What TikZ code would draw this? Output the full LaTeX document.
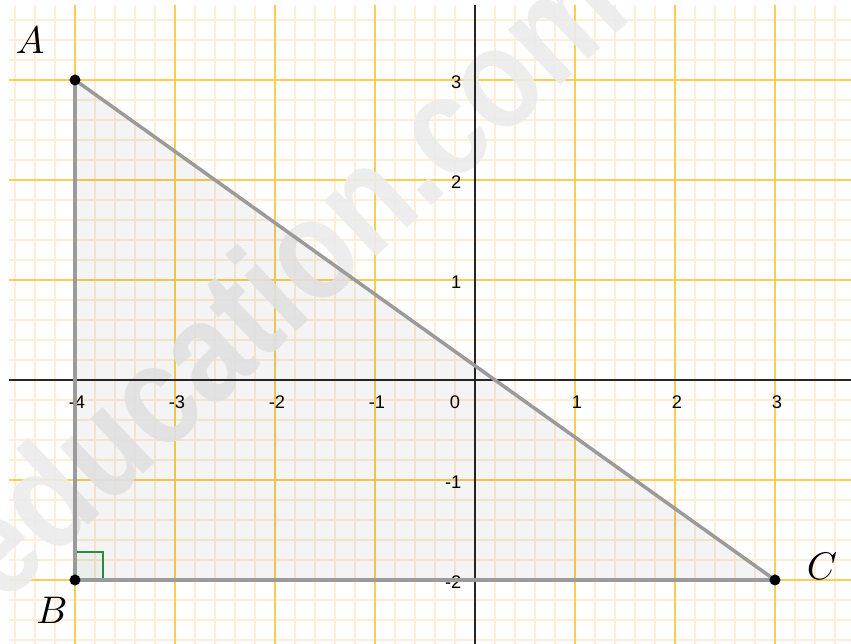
\documentclass[tikz,border=0pt]{standalone}
\usepackage{fontspec}
\newfontfamily\axisfont{Liberation Sans}
\definecolor{grilleMaj}{RGB}{250,205,85}
\definecolor{grilleMin}{RGB}{254,238,215}
\definecolor{vertAngle}{RGB}{40,140,60}
\definecolor{griseCote}{RGB}{155,155,155}

\begin{document}
\begin{tikzpicture}[
    grad/.style={font=\axisfont\fontsize{5.2}{6}\selectfont, inner sep=0pt},
    sommet/.style={font=\fontsize{10.5}{12}\selectfont, inner sep=0pt},
    point/.style={circle, fill=black, inner sep=0pt, minimum size=1.1mm},
]
    % Fenetre : x de -4.75 a 3.76, y de -2.64 a 3.80 (1 unite = 1 cm)
    \def\xmin{-4.66}
    \def\xmax{3.76}
    \def\ymin{-2.64}
    \def\ymax{3.75}
    \useasboundingbox (-4.75,-2.64) rectangle (3.76,3.80);

    % Grille fine puis grille principale
    \draw[grilleMin, line width=0.3pt, step=0.2] (\xmin,\ymin) grid (\xmax,\ymax);
    \draw[grilleMaj, line width=0.6pt, step=1] (\xmin,\ymin) grid (\xmax,\ymax);

    % Filigrane
    \node[rotate=43, text=black!8, opacity=0.9,
          font=\axisfont\bfseries\fontsize{41}{42}\selectfont] (filigrane) at (-1.92,1.06) {\scalebox{0.85}[1]{education.com}};

    % Axes
    \draw[black!85, line width=0.6pt] (\xmin,0) -- (\xmax,0);
    \draw[black!85, line width=0.6pt] (0,\ymin) -- (0,\ymax);

    % Graduations
    \foreach \x in {-4,-3,-2,-1,1,2,3}
        \node[grad] (gx\x) at (\x+0.02,-0.22) {\x};
    \node[grad] (gx0) at (-0.2,-0.22) {0};
    \foreach \y in {-2,-1,1,2,3}
        \node[grad, anchor=east] (gy\y) at (-0.13,\y-0.02) {\y};

    % Triangle rectangle en B
    \coordinate (A) at (-4,3);
    \coordinate (B) at (-4,-2);
    \coordinate (C) at (3,-2);
    \fill[black, fill opacity=0.045] (A) -- (B) -- (C) -- cycle;
    \draw[vertAngle, line width=0.7pt, fill=vertAngle, fill opacity=0.05] (B) rectangle ++(0.28,0.28);
    \draw[griseCote, line width=1pt, line join=round] (A) -- (B) -- (C) -- cycle;

    \node[point] (pA) at (A) {};
    \node[point] (pB) at (B) {};
    \node[point] (pC) at (C) {};
    \node[sommet] (lA) at (-4.45,3.40) {$A$};
    \node[sommet] (lB) at (-4.23,-2.30) {$B$};
    \node[sommet] (lC) at (3.47,-1.86) {$C$};
\end{tikzpicture}
\end{document}
